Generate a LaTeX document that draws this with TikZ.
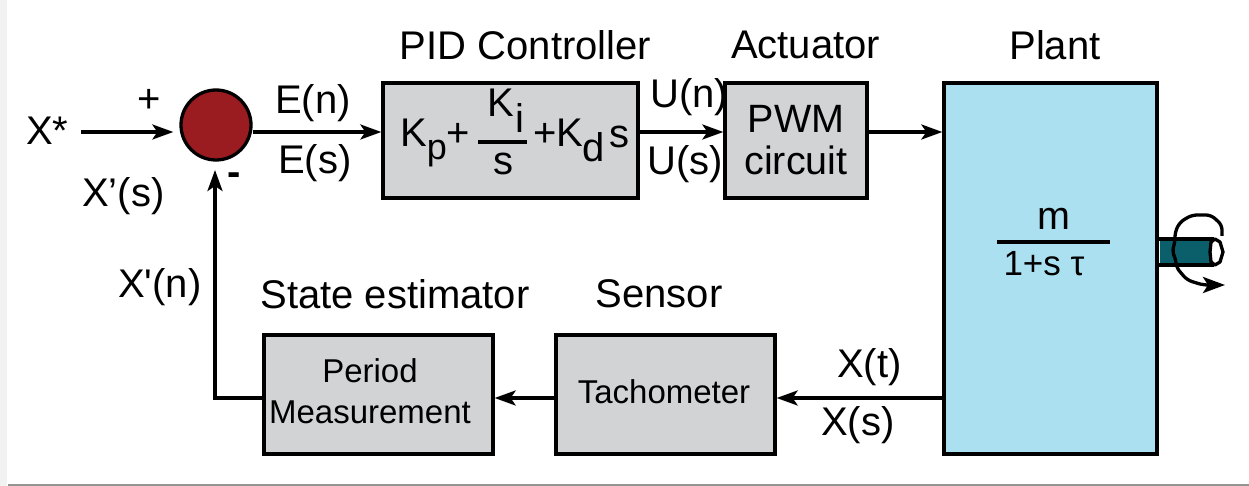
\documentclass[tikz,border=0pt]{standalone}
\usepackage{fontspec}
\setmainfont{Liberation Sans}
\usetikzlibrary{arrows.meta}
\definecolor{boxgray}{HTML}{D1D3D4}
\definecolor{plantblue}{HTML}{ABE0F0}
\definecolor{sumred}{HTML}{9B1C20}
\definecolor{shaftteal}{HTML}{0B5F6B}
\tikzset{
  blockbox/.style={draw=black,line width=3.3pt,fill=boxgray,inner sep=0pt,line join=miter},
  lbl/.style={inner sep=0pt,font=\fontsize{40}{46}\selectfont,text=black},
  midlbl/.style={inner sep=0pt,font=\fontsize{39.5}{44}\selectfont,align=center,text=black},
  smalllbl/.style={inner sep=0pt,font=\fontsize{33}{40}\selectfont,align=center,text=black},
  conn/.style={line width=3.3pt,-{Stealth[length=21pt,width=15pt,inset=5pt]}},
  wire/.style={line width=3.3pt}
}
\begin{document}
\begin{tikzpicture}[x=1pt,y=-1pt]
\useasboundingbox (0,0) rectangle (1249,486);
\fill[white] (0,0) rectangle (1249,486);
\fill[black!5] (0,0) rectangle (7,486);
\fill[black!42] (8,484) rectangle (1249,486);
% blocks
\node[blockbox,minimum width=255pt,minimum height=115pt] (pid) at (510.5,140.5) {};
\node[blockbox,minimum width=142pt,minimum height=115pt,midlbl] (pwm) at (796,140.5) {PWM\\[-2pt]circuit};
\node[blockbox,fill=plantblue,minimum width=213pt,minimum height=371pt] (plant) at (1050.5,268.5) {};
\node[blockbox,minimum width=219pt,minimum height=119pt,smalllbl] (tach) at (665.5,394.5) {\hspace*{-3pt}\raisebox{6pt}{Tachometer}};
\node[blockbox,minimum width=229pt,minimum height=119pt,smalllbl] (period) at (378.5,394.5) {\hspace*{-17pt}\raisebox{4pt}{\begin{tabular}{@{}c@{}}Period\\[1pt]Measurement\end{tabular}}};
\node[draw=black,line width=3.3pt,fill=sumred,circle,minimum size=70pt,inner sep=0pt] (sum) at (216,125) {};
% routing coordinates
\coordinate (sig) at (0,132);
\coordinate (fb) at (0,398);
\coordinate (xin) at (81,132);
\coordinate (up) at (215,170);
% connectors
\draw[conn,shorten >=6pt] (xin) -- (xin -| sum.west);
\draw[conn] (sum.east |- sig) -- (pid.west |- sig);
\draw[conn] (pid.east |- sig) -- (pwm.west |- sig);
\draw[conn] (pwm.east |- sig) -- (plant.west |- sig);
\draw[conn] (plant.west |- fb) -- (tach.east |- fb);
\draw[conn] (tach.west |- fb) -- (period.east |- fb);
\draw[conn] (period.west |- fb) -- (up |- fb) -- (up);
% headings
\node[lbl] (h1) at (525.5,45) {PID Controller};
\node[lbl] (h2) at (805.5,45) {Actuator};
\node[lbl] (h3) at (1055,45) {Plant};
\node[lbl] (h4) at (395,294) {State estimator};
\node[lbl] (h5) at (659,294) {Sensor};
% signal labels
\node[lbl,anchor=base west] (l1) at (26,145) {X*};
\node[lbl,anchor=base] (l2) at (149,113) {+};
\node[lbl,anchor=base west] (l3) at (82,207) {X’(s)};
\node[lbl,anchor=base] (l4) at (234,186) {\bfseries -};
\node[lbl,anchor=base west] (l5) at (275,114) {E(n)};
\node[lbl,anchor=base west] (l6) at (278,174) {E(s)};
\node[lbl,anchor=base west] (l7) at (650,108) {U(n)};
\node[lbl,anchor=base west] (l8) at (647,175) {U(s)};
\node[lbl,anchor=base west] (l9) at (118,297) {X\textquotesingle(n)};
\node[lbl,anchor=base west] (l10) at (837,377) {X(t)};
\node[lbl,anchor=base west] (l11) at (821,435) {X(s)};
% PID formula
\node[lbl,anchor=base west] (k1) at (400,147) {K\raisebox{-13pt}{\fontsize{36}{40}\selectfont p}+};
\node[lbl,anchor=base west] (k4) at (487,117) {K};
\node[lbl,anchor=base west] (k5) at (515,133) {i};
\coordinate (fa) at (478,142);
\coordinate (fbb) at (527,142);
\draw[wire] (fa) -- (fbb);
\node[lbl,anchor=base] (k6) at (503,175) {s};
\node[lbl,anchor=base west] (k7) at (533,147) {+K};
\node[lbl,anchor=base west] (k8) at (582,162) {d};
\node[lbl,anchor=base west] (k9) at (609,148) {s};
% plant formula
\node[midlbl,anchor=base] (m1) at (1054,230) {m};
\coordinate (ma) at (997,242);
\coordinate (mb) at (1110,242);
\draw[wire] (ma) -- (mb);
\node[lbl,font=\fontsize{35}{40}\selectfont,anchor=base] (m2) at (1044,276) {1+s τ};
% shaft
\fill[shaftteal] (1158.5,239) rectangle (1214,265);
\fill[white] (1158.5,239) rectangle (1160,265);
\draw[wire,fill=white,line join=round] (1215,239) -- (1220,242) -- (1223,252) -- (1220,262) -- (1215,265) -- (1211,262) -- (1210,252) -- (1211,242) -- cycle;
\draw[wire] (1214,239) -- (1158.5,239) (1158.5,265) -- (1214,265);
\draw[conn,rounded corners=5pt,-{Stealth[length=22pt,width=16pt,inset=5pt]}]
  (1222,236) -- (1222,225) -- (1211,215) -- (1192,215) -- (1180,222) -- (1175,232) -- (1175,242) -- (1172,252) -- (1176,259) -- (1176,267) -- (1187,280) -- (1203,285) -- (1225,285);
\end{tikzpicture}
\end{document}
